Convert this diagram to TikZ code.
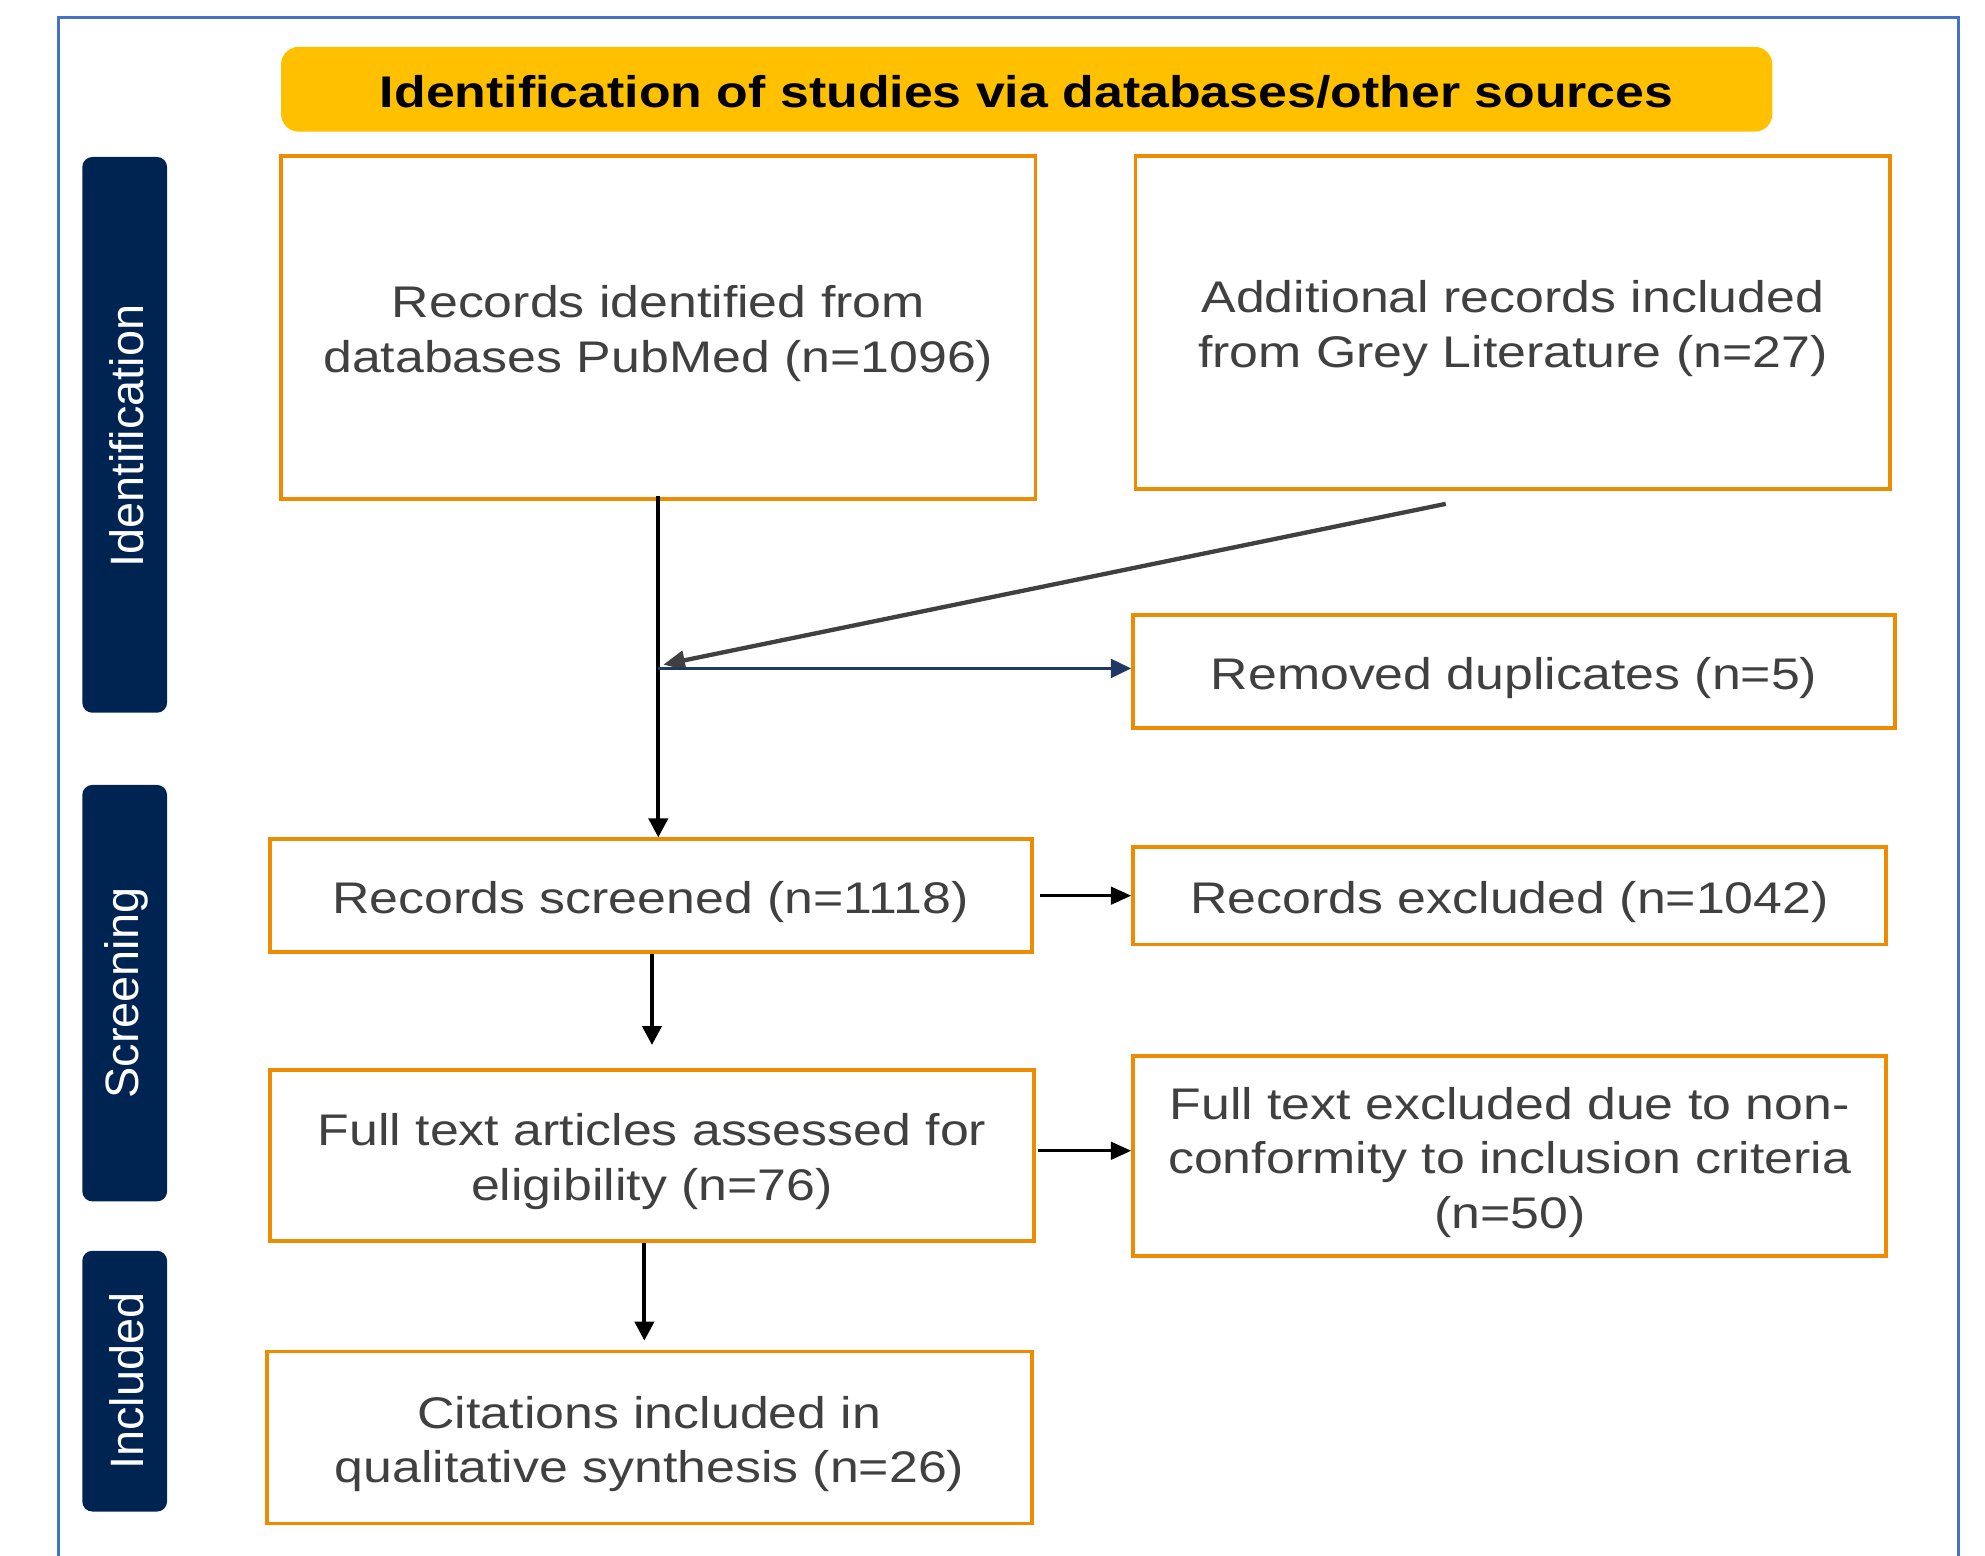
\documentclass[tikz,border=0pt]{standalone}
\usepackage{fontspec}
\setmainfont{Liberation Sans}[FakeStretch=1.17]
\newfontfamily\sidefont{Liberation Sans}
\usetikzlibrary{arrows.meta}
\definecolor{boxorange}{HTML}{EE8B00}
\definecolor{bannerfill}{HTML}{FFC000}
\definecolor{navy}{HTML}{002452}
\definecolor{txtgray}{HTML}{404040}
\definecolor{framblue}{HTML}{4472C4}
\definecolor{arrnavy}{HTML}{1F3864}
\tikzset{
  flowbox/.style={draw=boxorange, line width=3pt, fill=white, inner sep=0pt},
  flowtext/.style={inner sep=0pt, align=center, text=txtgray, font=\fontsize{35}{43}\selectfont},
  sidebar/.style={fill=navy, rounded corners=8pt, inner sep=0pt, minimum width=67pt},
  sidelabel/.style={rotate=90, text=white, font=\sidefont\fontsize{37}{40}\selectfont},
  mainarrow/.style={line width=3.2pt, black, -{Triangle[length=15pt,width=15pt]}},
  sidearrow/.style={line width=2pt, black, -{Triangle[length=16pt,width=14pt]}},
}
% #1 name, #2 position, #3 width, #4 height, #5 text
\newcommand{\mkflow}[5]{%
  \node[flowbox, minimum width=#3pt, minimum height=#4pt] (#1) at #2 {};
  \node[flowtext] (#1t) at ([yshift=-5pt]#1.center) {#5};
}
\begin{document}
\begin{tikzpicture}[x=1pt,y=-1pt]
\useasboundingbox (0,0) rectangle (1568,1229);
% outer frame (open at bottom)
\draw[framblue, line width=2pt] (46,1240) -- (46,14) -- (1547,14) -- (1547,1240);
% banner
\node[fill=bannerfill, rounded corners=14pt, minimum width=1178pt, minimum height=67pt, inner sep=0pt] (banner) at (811,70.5) {};
\node[inner sep=0pt, font=\bfseries\fontsize{35}{40}\selectfont] (bannert) at ([yshift=-2pt]banner.center) {Identification of studies via databases/other sources};
% side bars
\node[sidebar, minimum height=439pt] (sid) at (98.5,343.5) {};
\node[sidelabel] (sidt) at ([xshift=1.5pt,yshift=-1pt]sid.center) {Identification};
\node[sidebar, minimum height=329pt] (scr) at (98.5,784.5) {};
\node[sidelabel] (scrt) at ([xshift=1.5pt]scr.center) {Screening};
\node[sidebar, minimum height=206pt] (inc) at (98.5,1091) {};
\node[sidelabel] (inct) at ([xshift=1.5pt]inc.center) {Included};
% boxes
\mkflow{A}{(520,258.5)}{596}{271}{Records identified from\\databases PubMed (n=1096)}
\mkflow{B}{(1195,254.5)}{596}{263}{Additional records included\\from Grey Literature (n=27)}
\mkflow{C}{(1196,530.5)}{602}{89}{Removed duplicates (n=5)}
\mkflow{D}{(514,707.5)}{602}{89}{Records screened (n=1118)}
\mkflow{E}{(1192.5,707.5)}{595}{77}{Records excluded (n=1042)}
\mkflow{F}{(515,912.5)}{604}{135}{Full text articles assessed for\\eligibility (n=76)}
\mkflow{G}{(1192.5,913)}{595}{158}{Full text excluded due to non-\\conformity to inclusion criteria\\(n=50)}
\mkflow{H}{(513,1135.5)}{604}{136}{Citations included in\\qualitative synthesis (n=26)}
% helper coordinates
\coordinate (J) at (520,528);
\coordinate (Bs) at (1142,398);
\coordinate (Jg) at (524,525);
\coordinate (Fr) at (820,909);
% connectors
\draw[mainarrow] ([yshift=4pt]A.south) -- (D.north -| A.south);
\draw[line width=3.4pt, txtgray, -{Triangle[length=17pt,width=15pt]}] (Bs) -- (Jg);
\draw[line width=1.8pt, arrnavy, -{Triangle[length=16pt,width=15pt]}] (J) -- (J -| C.west);
\draw[sidearrow] ([xshift=5pt]D.east) -- (E.west);
\draw[mainarrow, shorten >=18pt] (D.south -| 515,0) -- (F.north -| 515,0);
\draw[sidearrow] (Fr) -- (Fr -| G.west);
\draw[mainarrow, shorten >=7pt] (F.south -| 509,0) -- (H.north -| 509,0);
\end{tikzpicture}
\end{document}
